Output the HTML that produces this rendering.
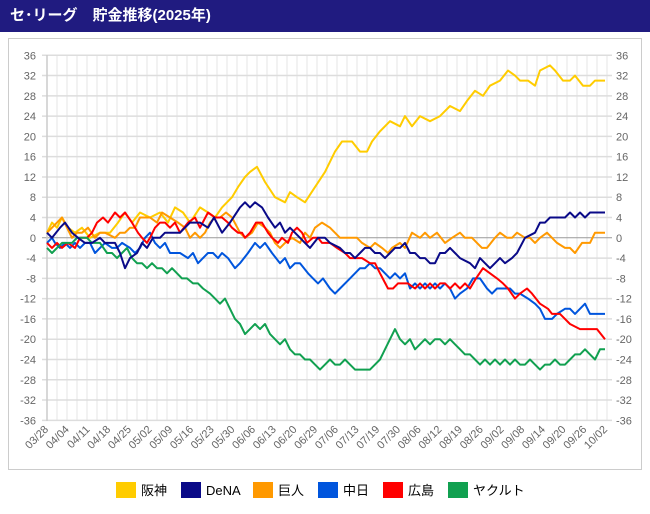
<!DOCTYPE html>
<html><head><meta charset="utf-8"><style>
body{margin:0;width:650px;height:514px;background:#fff;overflow:hidden;font-family:"Liberation Sans","Noto Sans CJK JP",sans-serif}
#t{position:absolute;left:0;top:0;width:650px;height:32px;background:#201b80;color:#fff;font-weight:bold;font-size:15px;line-height:32px;padding-left:10px;box-sizing:border-box}
#box{position:absolute;left:8px;top:38px;width:634px;height:432px;border:1px solid #ccc;box-sizing:border-box}
svg{position:absolute;left:0;top:0}
</style></head><body>
<div id="t">セ･リーグ　貯金推移(2025年)</div>
<div id="box"></div>
<svg id="s" width="650" height="514" xmlns="http://www.w3.org/2000/svg"></svg>
<script>
var s=document.getElementById('s'),h='';
function Y(v){return 237.8-v*5.07}
for(var x=47;x<=607.5;x+=10)h+='<line x1="'+x+'" y1="55" x2="'+x+'" y2="421" stroke="#e6e6e6" stroke-width="1"/>';
for(var v=-36;v<=36;v+=4){var y=Y(v);h+='<line x1="42" y1="'+y+'" x2="612" y2="'+y+'" stroke="'+(v==0?'#999':'#ddd')+'" stroke-width="'+(v==0?1:1.5)+'"/>';
h+='<text x="36" y="'+(y+4)+'" font-size="11" fill="#666" text-anchor="end">'+v+'</text><text x="616" y="'+(y+4)+'" font-size="11" fill="#666">'+v+'</text>';}
h+='<line x1="47" y1="55" x2="47" y2="421" stroke="#ccc" stroke-width="1.5"/>';
var L="03/28 04/04 04/11 04/18 04/25 05/02 05/09 05/16 05/23 05/30 06/06 06/13 06/20 06/29 07/06 07/13 07/19 07/30 08/06 08/12 08/19 08/26 09/02 09/08 09/14 09/20 09/26 10/02".split(' ');
L.forEach(function(l,i){var x=49+20.7*i;h+='<text transform="translate('+x+',430) rotate(-45)" font-size="11" fill="#666" text-anchor="end">'+l+'</text>';});
var D={
"#ffcc00":"47:1,52:3,57:2,62:4,68:2,75:1,82:2,90:0,100:1,110:1,118:3,125:5,132:3,140:5,150:4,160:5,168:3,175:6,183:5,190:3,200:6,208:5,215:4,222:6,232:8,238:10,245:12,250:13,257:14,265:11,275:8,285:7,290:9,297:8,305:7,315:10,325:13,335:17,342:19,352:19,360:17,367:17,372:19,380:21,390:23,400:22,405:24,412:22,420:24,430:23,440:24,450:26,460:25,467:27,475:29,483:28,490:30,500:31,508:33,515:32,520:31,528:31,535:30,540:33,550:34,555:33,563:31,570:31,575:32,583:30,590:30,595:31,605:31",
"#ff9900":"47:1,52:2,57:3,62:4,67:2,72:0,77:1,82:1,88:2,95:0,100:1,105:1,115:0,120:1,125:1,130:2,135:2,140:4,150:4,157:3,162:5,170:4,178:3,185:2,190:0,195:1,200:0,205:1,210:3,215:4,220:4,226:5,232:4,240:1,245:0,252:1,258:3,265:2,270:1,275:-1,280:-2,285:-1,292:0,300:-1,305:1,310:0,315:2,322:3,330:2,340:0,350:0,357:0,362:-1,370:-2,375:-1,382:-2,388:-3,392:-2,400:-1,405:-2,412:1,420:0,425:1,430:0,437:1,445:-1,452:0,460:1,465:0,472:0,477:-1,482:-2,487:-2,495:0,500:1,507:0,512:0,517:1,525:0,530:0,535:-1,540:0,547:1,552:0,557:-1,565:-2,570:-2,575:-3,582:-1,590:-1,595:1,605:1",
"#0055dd":"47:-1,52:0,55:-1,60:-2,65:-1,70:-2,75:-1,80:-2,85:-1,90:-1,95:-3,100:-2,105:-1,112:-2,117:-2,122:-1,130:-2,135:-3,140:-2,145:0,150:1,155:-1,160:-2,165:-1,170:-3,180:-3,188:-4,193:-3,198:-5,203:-4,208:-3,213:-3,218:-4,222:-3,228:-4,235:-6,240:-5,248:-3,255:-1,260:-2,265:-1,272:-3,280:-5,285:-4,290:-6,295:-5,300:-5,308:-7,313:-8,318:-9,323:-8,330:-10,335:-11,340:-10,350:-8,355:-7,360:-6,365:-6,370:-5,375:-6,380:-6,385:-7,390:-8,395:-7,400:-8,405:-7,410:-10,415:-9,420:-10,425:-9,430:-10,435:-9,440:-10,445:-9,450:-10,455:-12,460:-11,467:-10,473:-8,480:-8,487:-10,492:-11,497:-10,505:-10,510:-10,515:-11,520:-11,528:-12,535:-13,540:-14,545:-16,552:-16,557:-15,565:-14,570:-14,575:-15,580:-14,585:-13,590:-15,605:-15",
"#ff0000":"47:-1,52:-2,57:-1,62:-2,68:-1,75:-2,80:0,87:0,92:1,97:3,103:4,108:3,115:5,120:4,125:5,132:3,138:1,142:0,147:-1,150:0,155:2,160:3,165:3,170:2,175:3,180:1,188:3,195:4,200:2,208:5,215:4,222:4,228:3,232:2,238:1,242:1,245:0,250:1,256:3,262:3,268:1,272:0,278:-1,282:0,288:-1,292:1,297:2,302:1,307:-1,313:0,318:0,322:-1,330:-1,337:-2,345:-3,350:-4,357:-4,362:-4,370:-5,375:-5,380:-7,388:-10,393:-10,398:-9,403:-9,408:-9,415:-10,420:-9,425:-10,430:-9,435:-10,440:-9,445:-9,450:-10,455:-9,460:-10,465:-9,470:-10,476:-8,483:-6,490:-7,497:-8,503:-9,508:-10,515:-12,520:-11,527:-10,532:-11,540:-13,548:-14,552:-15,560:-15,570:-17,580:-18,597:-18,605:-20",
"#11a050":"47:-2,52:-3,57:-2,62:-1,67:-1,72:-1,77:0,82:0,87:0,92:-1,100:-1,107:-3,112:-3,117:-4,122:-3,127:-2,132:-4,137:-5,142:-5,147:-6,152:-5,157:-6,162:-6,167:-7,172:-6,177:-7,182:-8,187:-8,193:-9,198:-9,203:-10,210:-11,215:-12,220:-13,225:-12,230:-14,235:-16,240:-17,245:-19,250:-18,255:-17,260:-18,265:-17,270:-19,275:-20,280:-21,285:-20,290:-22,295:-23,300:-23,305:-24,310:-24,315:-25,320:-26,325:-25,330:-24,335:-25,340:-25,345:-24,350:-25,355:-26,360:-26,365:-26,370:-26,375:-25,380:-24,385:-22,390:-20,395:-18,400:-20,405:-21,410:-20,415:-22,420:-21,425:-20,430:-21,435:-20,440:-20,445:-21,450:-20,455:-21,460:-22,465:-23,470:-23,475:-24,480:-25,485:-24,490:-25,495:-24,500:-25,505:-24,510:-25,515:-24,520:-25,525:-25,530:-24,535:-25,540:-26,545:-25,550:-25,555:-24,560:-25,565:-25,570:-24,575:-23,580:-23,585:-22,590:-23,595:-24,600:-22,605:-22",
"#0a0a88":"47:1,52:0,60:2,65:3,72:1,78:0,85:-1,92:-1,100:0,105:-1,115:-1,120:-3,125:-6,130:-4,137:-3,142:-1,147:-2,153:0,160:0,165:1,172:1,180:1,190:3,200:3,208:2,214:4,222:1,230:3,240:6,245:7,250:6,255:7,262:6,268:4,275:2,280:3,285:1,290:2,300:0,305:-1,310:-2,318:0,325:0,330:-1,340:-2,345:-3,350:-3,355:-4,360:-3,365:-2,370:-2,375:-3,380:-3,385:-4,390:-3,395:-2,400:-2,405:-1,410:-3,415:-3,420:-4,425:-4,430:-5,435:-5,440:-3,445:-3,450:-2,455:-3,460:-4,470:-5,475:-6,480:-4,485:-5,490:-6,495:-5,500:-4,505:-5,512:-4,517:-3,525:0,535:1,540:3,545:3,550:4,560:4,565:4,570:5,575:4,580:5,585:4,590:5,605:5"};
for(var c in D){var p=D[c].split(',').map(function(q){var a=q.split(':');return a[0]+','+Y(+a[1]).toFixed(1)}).join(' ');
h+='<polyline points="'+p+'" fill="none" stroke="'+c+'" stroke-width="2" stroke-linejoin="round"/>';}
var G=[[116,"#ffcc00","阪神"],[181,"#0a0a88","DeNA"],[253,"#ff9900","巨人"],[318,"#0055dd","中日"],[383,"#ff0000","広島"],[448,"#11a050","ヤクルト"]];
G.forEach(function(g){h+='<rect x="'+g[0]+'" y="482" width="20" height="16" fill="'+g[1]+'"/><text x="'+(g[0]+25)+'" y="495" font-size="13" fill="#000">'+g[2]+'</text>';});
s.innerHTML=h;
</script>
</body></html>
